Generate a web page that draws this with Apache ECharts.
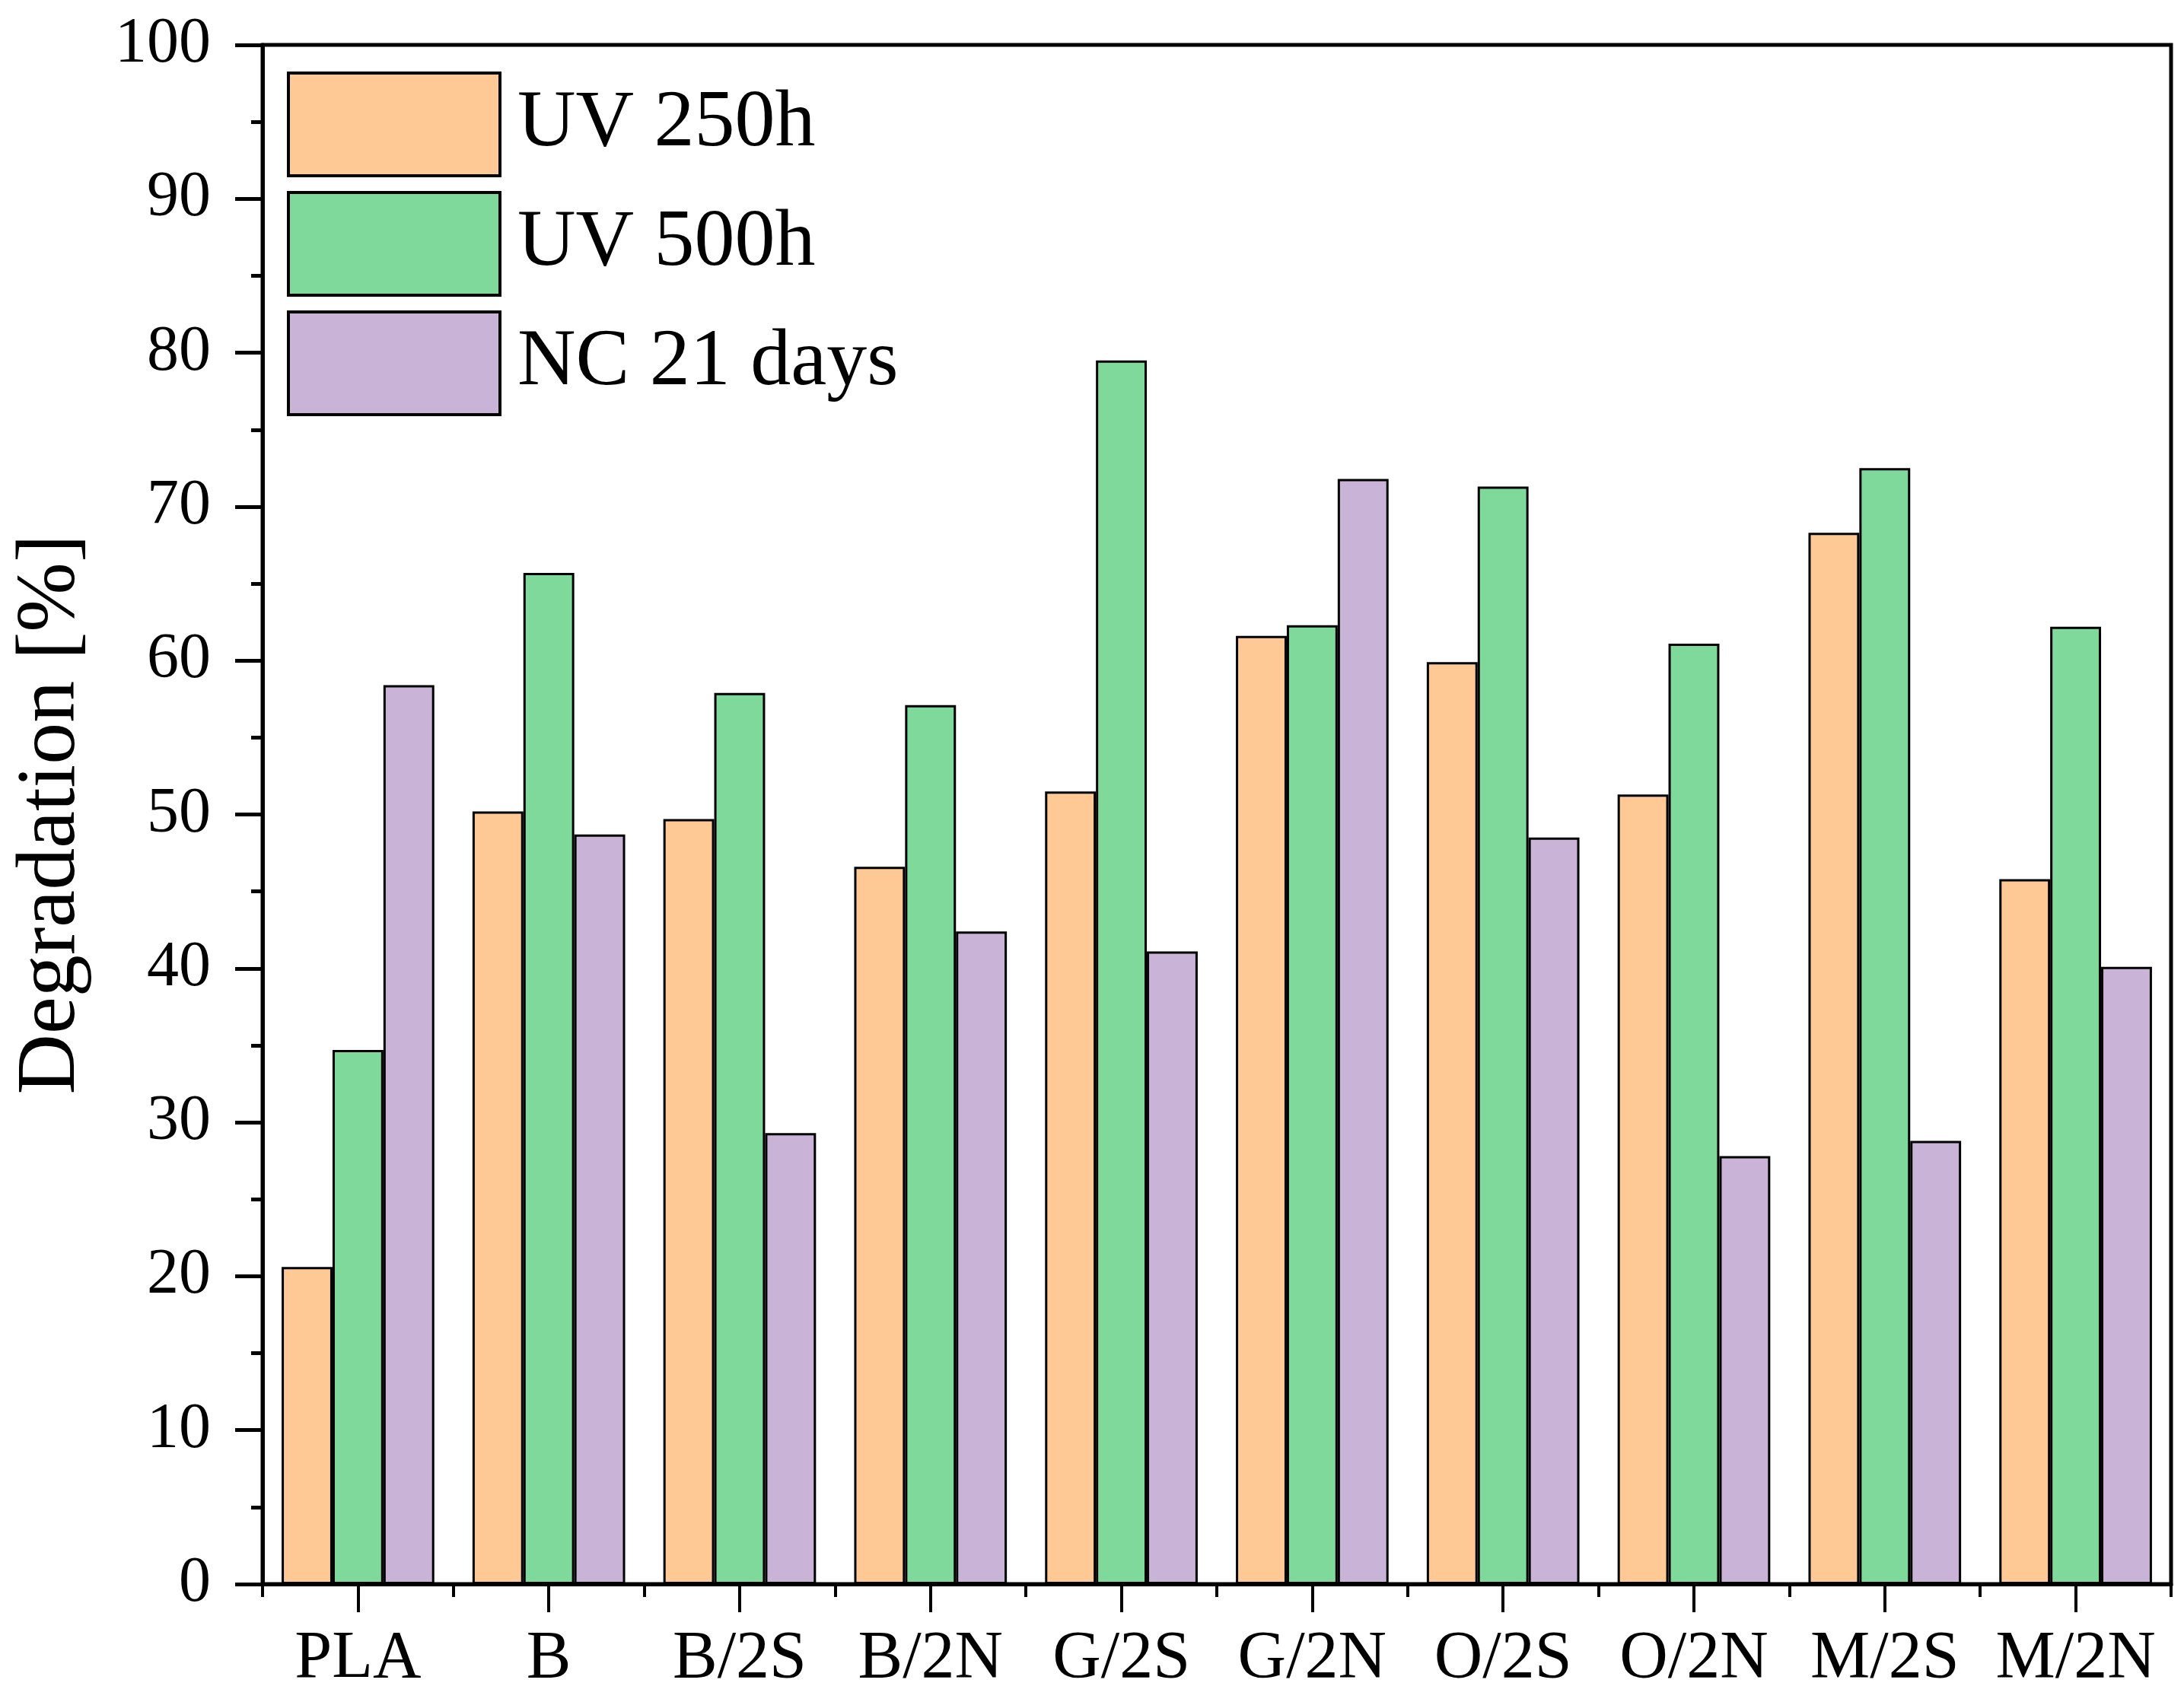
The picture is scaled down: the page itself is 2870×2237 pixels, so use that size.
<!DOCTYPE html>
<html><head><meta charset="utf-8">
<script src="https://cdn.jsdelivr.net/npm/echarts/dist/echarts.min.js"></script>
<style>html,body{margin:0;padding:0;background:#fff}#c{width:2870px;height:2237px}</style>
</head><body><div id="c"></div>
<script>
const categories = ['PLA','B','B/2S','B/2N','G/2S','G/2N','O/2S','O/2N','M/2S','M/2N'];
const uv250 = [20.6,50.2,49.7,46.6,51.5,61.6,59.9,51.3,68.3,45.8];
const uv500 = [34.7,65.7,57.9,57.1,79.5,62.3,71.3,61.1,72.5,62.2];
const nc21 = [58.4,48.7,29.3,42.4,41.1,71.8,48.5,27.8,28.8,40.1];
const seriesNames = ['UV 250h','UV 500h','NC 21 days'];
const seriesColors = ['#FFC996','#7FD99A','#C9B3D7'];
const seriesValues = [uv250, uv500, nc21];
const yName = 'Degradation [%]';

const FONT = "'Liberation Serif', 'DejaVu Serif', serif";
const chart = echarts.init(document.getElementById('c'));
const option = {
  animation:false,
  backgroundColor:'#fff',
  grid:{left:345,right:17,top:59,bottom:155,show:true,borderColor:'#000',borderWidth:5,backgroundColor:'transparent'},
  legend:{orient:'vertical',left:377,top:94,itemWidth:278,itemHeight:135,itemGap:18,icon:'rect',padding:0,
    itemStyle:{borderColor:'#000',borderWidth:4},
    textStyle:{fontFamily:FONT,fontSize:106,color:'#000',padding:[0,0,0,18]},data:seriesNames},
  xAxis:[
    {type:'category',data:categories,position:'bottom',
     axisLine:{show:true,lineStyle:{color:'#000',width:5}},
     axisTick:{show:true,alignWithLabel:true,interval:0,length:37,lineStyle:{color:'#000',width:4}},
     axisLabel:{fontFamily:FONT,fontSize:88,color:'#000',margin:55,interval:0},
     splitLine:{show:false}},
    {type:'category',data:categories,position:'bottom',
     axisLine:{show:false},
     axisTick:{show:true,interval:0,length:17,lineStyle:{color:'#000',width:4}},
     axisLabel:{show:false,interval:0},splitLine:{show:false}}
  ],
  yAxis:{type:'value',min:0,max:100,interval:10,
    axisLine:{show:true,lineStyle:{color:'#000',width:5}},
    axisTick:{show:true,length:36,lineStyle:{color:'#000',width:5}},
    minorTick:{show:true,splitNumber:2,length:15,lineStyle:{color:'#000',width:5}},
    axisLabel:{fontFamily:FONT,fontSize:84,color:'#000',margin:68},
    splitLine:{show:false},
    name:yName,nameLocation:'middle',nameGap:222,
    nameTextStyle:{fontFamily:FONT,fontSize:110,color:'#000'}},
  series: seriesNames.map((n,i)=>({
    name:n,type:'bar',xAxisIndex:0,data:seriesValues[i],
    barGap:'0%',barCategoryGap:'20%',
    itemStyle:{color:seriesColors[i],borderColor:'#000',borderWidth:3}
  }))
};
chart.setOption(option);
</script></body></html>
